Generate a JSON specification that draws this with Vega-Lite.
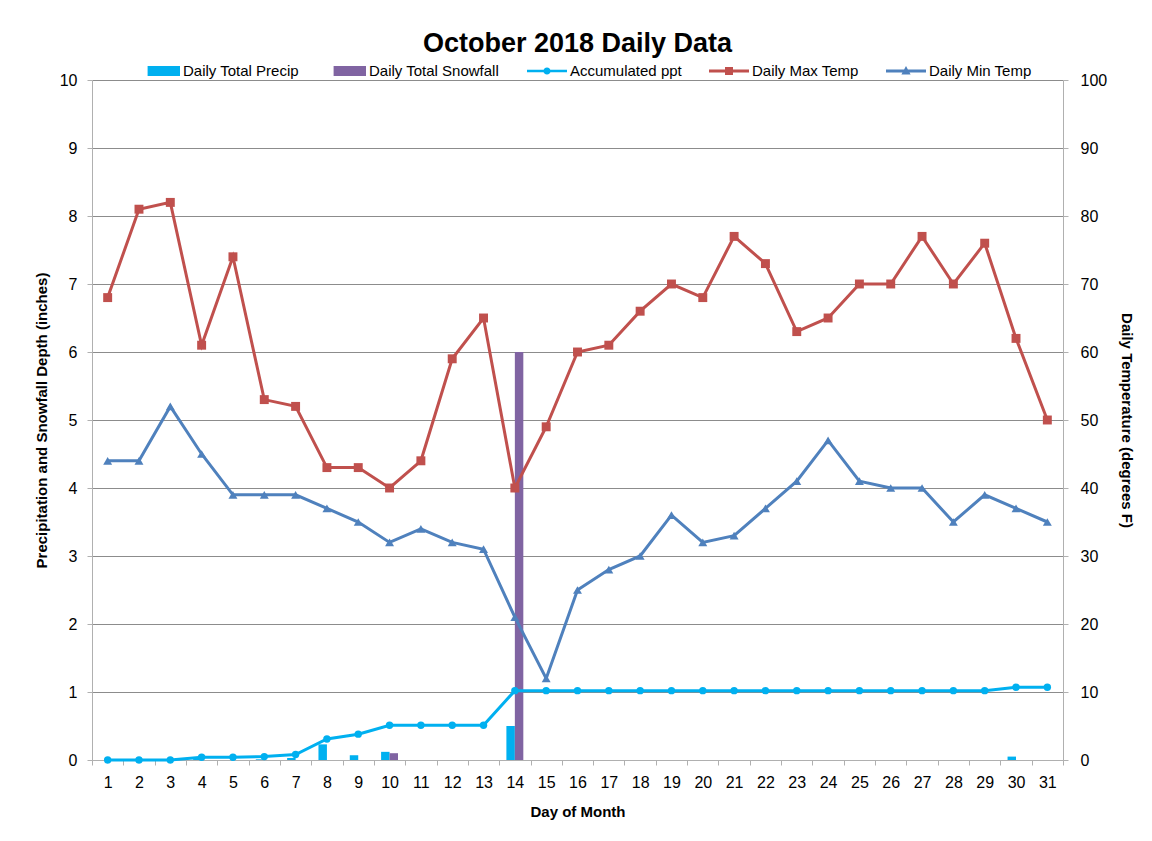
{
  "$schema": "https://vega.github.io/schema/vega-lite/v6.json",
  "width": 971,
  "height": 680,
  "autosize": {"type": "none"},
  "padding": {"left": 92, "top": 80, "right": 89, "bottom": 81},
  "background": "white",
  "title": {"text": "October 2018 Daily Data", "font": "Liberation Sans", "fontSize": 27, "fontWeight": "bold", "color": "black", "anchor": "middle", "offset": -7},
  "config": {
    "font": "Liberation Sans",
    "view": {"stroke": null},
    "axis": {"labelFont": "Liberation Sans", "labelFontSize": 16, "labelColor": "black", "titleFont": "Liberation Sans", "titleFontSize": 15, "titleFontWeight": "bold", "titleColor": "black", "domainColor": "#b0b0b0", "tickColor": "#b0b0b0", "tickSize": 5, "gridColor": "#8c8c8c", "gridWidth": 1}
  },
  "data": {"values": [
    {"day": 1, "precip": 0, "snow": 0, "acc": 0, "tmax": 68, "tmin": 44},
    {"day": 2, "precip": 0, "snow": 0, "acc": 0, "tmax": 81, "tmin": 44},
    {"day": 3, "precip": 0, "snow": 0, "acc": 0, "tmax": 82, "tmin": 52},
    {"day": 4, "precip": 0.04, "snow": 0, "acc": 0.04, "tmax": 61, "tmin": 45},
    {"day": 5, "precip": 0, "snow": 0, "acc": 0.04, "tmax": 74, "tmin": 39},
    {"day": 6, "precip": 0.01, "snow": 0, "acc": 0.05, "tmax": 53, "tmin": 39},
    {"day": 7, "precip": 0.03, "snow": 0, "acc": 0.08, "tmax": 52, "tmin": 39},
    {"day": 8, "precip": 0.23, "snow": 0, "acc": 0.31, "tmax": 43, "tmin": 37},
    {"day": 9, "precip": 0.07, "snow": 0, "acc": 0.38, "tmax": 43, "tmin": 35},
    {"day": 10, "precip": 0.12, "snow": 0.1, "acc": 0.51, "tmax": 40, "tmin": 32},
    {"day": 11, "precip": 0, "snow": 0, "acc": 0.51, "tmax": 44, "tmin": 34},
    {"day": 12, "precip": 0, "snow": 0, "acc": 0.51, "tmax": 59, "tmin": 32},
    {"day": 13, "precip": 0, "snow": 0, "acc": 0.51, "tmax": 65, "tmin": 31},
    {"day": 14, "precip": 0.5, "snow": 6.0, "acc": 1.02, "tmax": 40, "tmin": 21},
    {"day": 15, "precip": 0, "snow": 0, "acc": 1.02, "tmax": 49, "tmin": 12},
    {"day": 16, "precip": 0, "snow": 0, "acc": 1.02, "tmax": 60, "tmin": 25},
    {"day": 17, "precip": 0, "snow": 0, "acc": 1.02, "tmax": 61, "tmin": 28},
    {"day": 18, "precip": 0, "snow": 0, "acc": 1.02, "tmax": 66, "tmin": 30},
    {"day": 19, "precip": 0, "snow": 0, "acc": 1.02, "tmax": 70, "tmin": 36},
    {"day": 20, "precip": 0, "snow": 0, "acc": 1.02, "tmax": 68, "tmin": 32},
    {"day": 21, "precip": 0, "snow": 0, "acc": 1.02, "tmax": 77, "tmin": 33},
    {"day": 22, "precip": 0, "snow": 0, "acc": 1.02, "tmax": 73, "tmin": 37},
    {"day": 23, "precip": 0, "snow": 0, "acc": 1.02, "tmax": 63, "tmin": 41},
    {"day": 24, "precip": 0, "snow": 0, "acc": 1.02, "tmax": 65, "tmin": 47},
    {"day": 25, "precip": 0, "snow": 0, "acc": 1.02, "tmax": 70, "tmin": 41},
    {"day": 26, "precip": 0, "snow": 0, "acc": 1.02, "tmax": 70, "tmin": 40},
    {"day": 27, "precip": 0, "snow": 0, "acc": 1.02, "tmax": 77, "tmin": 40},
    {"day": 28, "precip": 0, "snow": 0, "acc": 1.02, "tmax": 70, "tmin": 35},
    {"day": 29, "precip": 0, "snow": 0, "acc": 1.02, "tmax": 76, "tmin": 39},
    {"day": 30, "precip": 0.05, "snow": 0, "acc": 1.07, "tmax": 62, "tmin": 37},
    {"day": 31, "precip": 0, "snow": 0, "acc": 1.07, "tmax": 50, "tmin": 35}
  ]},
  "encoding": {
    "x": {"field": "day", "type": "ordinal", "scale": {"paddingInner": 0, "paddingOuter": 0},
      "axis": {"title": "Day of Month", "labelAngle": 0, "tickBand": "extent", "labelPadding": 9, "titlePadding": 14, "domainColor": "#b0b0b0"}}
  },
  "layer": [
    {
      "transform": [{"fold": ["precip", "snow"], "as": ["series", "value"]}],
      "mark": {"type": "bar"},
      "encoding": {
        "xOffset": {"field": "series", "type": "nominal", "scale": {"domain": ["precip", "snow"], "paddingInner": 0, "paddingOuter": 0.85}},
        "y": {"field": "value", "type": "quantitative", "scale": {"domain": [0, 10], "nice": false},
          "axis": {"title": "Precipitation and Snowfall Depth (inches)", "values": [0,1,2,3,4,5,6,7,8,9,10], "grid": true, "labelPadding": 10, "titlePadding": 10}},
        "color": {"field": "series", "type": "nominal",
          "scale": {"domain": ["precip", "snow", "acc", "tmax", "tmin"], "range": ["#00B0F0", "#8064A2", "#00B0F0", "#C0504D", "#4F81BD"]},
          "legend": {
            "title": null, "orient": "none", "direction": "horizontal", "columns": 5,
            "legendX": 48, "legendY": -29, "symbolSize": 1600, "columnPadding": 27, "labelOffset": 3,
            "labelFont": "Liberation Sans", "labelFontSize": 15, "labelColor": "black",
            "labelExpr": "{'precip': 'Daily Total Precip', 'snow': 'Daily Total Snowfall', 'acc': 'Accumulated ppt', 'tmax': 'Daily Max Temp', 'tmin': 'Daily Min Temp'}[datum.value]",
            "encode": {"symbols": {"update": {
              "shape": {"signal": "datum.value == 'precip' || datum.value == 'snow' ? 'M-0.62,-0.25H1V0.25H-0.62Z' : datum.value == 'acc' ? 'M-1,-0.06H1V0.06H-1Z M0.18,0A0.18,0.18 0 1,1 -0.18,0A0.18,0.18 0 1,1 0.18,0Z' : datum.value == 'tmax' ? 'M-1,-0.07H1V0.07H-1Z M-0.2,-0.2H0.2V0.2H-0.2Z' : 'M-1,-0.07H1V0.07H-1Z M0,-0.25L0.23,0.18H-0.23Z'"},
              "fill": {"signal": "scale('color', datum.value)"},
              "stroke": {"value": "transparent"},
              "strokeWidth": {"value": 0},
              "opacity": {"value": 1}
            }}}
          }}
      }
    },
    {
      "mark": {"type": "line", "strokeWidth": 3, "point": {"filled": true, "size": 55, "shape": "circle"}},
      "transform": [{"fold": ["acc"], "as": ["series", "value"]}],
      "encoding": {
        "y": {"field": "value", "type": "quantitative", "scale": {"domain": [0, 10], "nice": false}, "axis": null},
        "color": {"field": "series", "type": "nominal"}
      }
    },
    {
      "mark": {"type": "line", "strokeWidth": 3, "point": {"filled": true, "size": 80}},
      "transform": [{"fold": ["tmax", "tmin"], "as": ["series", "value"]}],
      "encoding": {
        "y": {"field": "value", "type": "quantitative", "scale": {"domain": [0, 100], "nice": false},
          "axis": {"title": "Daily Temperature (degrees F)", "orient": "right", "values": [0,10,20,30,40,50,60,70,80,90,100], "grid": false, "labelPadding": 12, "titlePadding": 12}},
        "color": {"field": "series", "type": "nominal"},
        "shape": {"field": "series", "type": "nominal", "scale": {"domain": ["tmax", "tmin"], "range": ["square", "triangle-up"]}, "legend": null}
      }
    }
  ],
  "resolve": {"scale": {"y": "independent"}}
}
